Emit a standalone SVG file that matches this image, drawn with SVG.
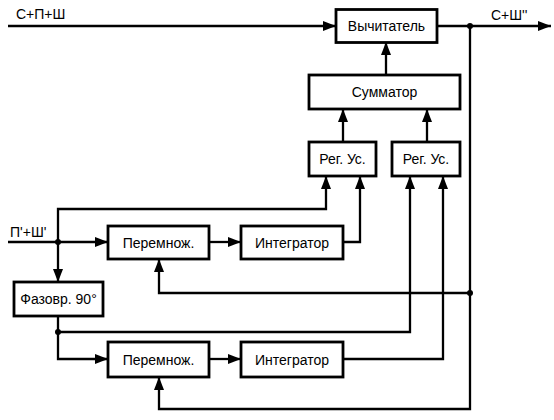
<svg xmlns="http://www.w3.org/2000/svg" width="554" height="420" viewBox="0 0 554 420">
<defs>
<marker id="arr" markerUnits="userSpaceOnUse" markerWidth="13" markerHeight="10" refX="13" refY="5" orient="auto" viewBox="0 0 13 10">
<path d="M0,0 L13,5 L0,10 z" fill="#000"/>
</marker>
<style>
.box{fill:#fff;stroke:#000;stroke-width:2.8}
.t{font-family:"Liberation Sans",Arial,sans-serif;font-size:14px;fill:#000;text-anchor:middle;dominant-baseline:central}
.lbl{font-family:"Liberation Sans",Arial,sans-serif;font-size:14px;fill:#000}
.c{fill:none;stroke:#000;stroke-width:2.3}
.a{marker-end:url(#arr)}
</style>
</defs>
<rect width="554" height="420" fill="#fff"/>
<g id="connectors">
<path class="c a" d="M8 26 H336"/>
<path class="c a" d="M437 26 H551"/>
<path class="c a" d="M470 26 V409 H159 V377"/>
<path class="c a" d="M470 293 H159 V259"/>
<path class="c a" d="M386 75 V42"/>
<path class="c a" d="M343 142 V109"/>
<path class="c a" d="M427 142 V109"/>
<path class="c a" d="M8 242 H108"/>
<path class="c a" d="M58 242 V209 H326 V176"/>
<path class="c a" d="M58 242 V282"/>
<path class="c a" d="M209 242 H241"/>
<path class="c a" d="M343 242 H360 V176"/>
<path class="c a" d="M58 316 V359 H108"/>
<path class="c a" d="M58 332 H410 V176"/>
<path class="c a" d="M209 359 H241"/>
<path class="c a" d="M343 359 H443 V176"/>
<circle cx="470" cy="26" r="3"/>
<circle cx="470" cy="293" r="3"/>
<circle cx="58" cy="242" r="3"/>
<circle cx="58" cy="332" r="3"/>
</g>
<g id="labels">
<text class="lbl" x="16" y="19">С+П+Ш</text>
<text class="lbl" x="491" y="20">С+Ш''</text>
<text class="lbl" x="10" y="237">П'+Ш'</text>
</g>
<g id="subtractor"><rect class="box" x="336" y="9.5" width="101" height="33"/><text class="t" x="386.5" y="26">Вычитатель</text></g>
<g id="adder"><rect class="box" x="309" y="75" width="151" height="34"/><text class="t" x="384.5" y="92">Сумматор</text></g>
<g id="amp1"><rect class="box" x="309" y="142" width="67" height="34"/><text class="t" x="342.5" y="159">Рег. Ус.</text></g>
<g id="amp2"><rect class="box" x="392" y="142" width="68" height="34"/><text class="t" x="426" y="159">Рег. Ус.</text></g>
<g id="mult1"><rect class="box" x="108" y="226" width="101" height="33"/><text class="t" x="158.5" y="242.5">Перемнож.</text></g>
<g id="int1"><rect class="box" x="241" y="226" width="102" height="33"/><text class="t" x="292" y="242.5">Интегратор</text></g>
<g id="phase"><rect class="box" x="14" y="282" width="89" height="34"/><text class="t" x="58.5" y="299">Фазовр. 90°</text></g>
<g id="mult2"><rect class="box" x="108" y="342" width="101" height="35"/><text class="t" x="158.5" y="359.5">Перемнож.</text></g>
<g id="int2"><rect class="box" x="241" y="342" width="102" height="35"/><text class="t" x="292" y="359.5">Интегратор</text></g>
</svg>
